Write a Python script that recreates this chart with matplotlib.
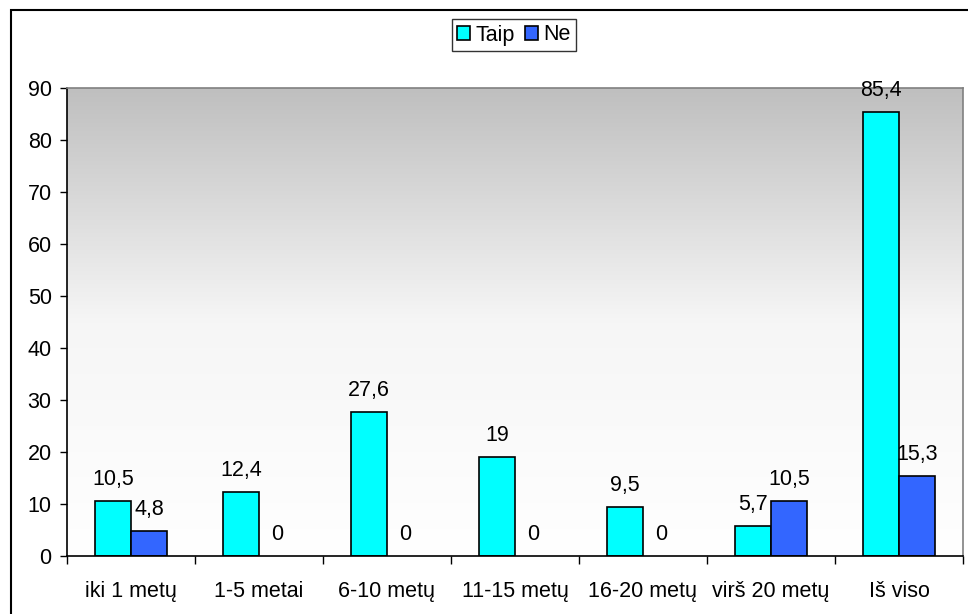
import matplotlib
matplotlib.use("Agg")
import matplotlib.pyplot as plt
import numpy as np
from matplotlib.patches import Rectangle
from matplotlib.colors import LinearSegmentedColormap

categories = ["iki 1 metų", "1-5 metai", "6-10 metų", "11-15 metų", "16-20 metų", "virš 20 metų", "Iš viso"]
taip = [10.5, 12.4, 27.6, 19, 9.5, 5.7, 85.4]
ne = [4.8, 0, 0, 0, 0, 10.5, 15.3]
taip_labels = ["10,5", "12,4", "27,6", "19", "9,5", "5,7", "85,4"]
ne_labels = ["4,8", "0", "0", "0", "0", "10,5", "15,3"]
yticks = [0, 10, 20, 30, 40, 50, 60, 70, 80, 90]

plt.rcParams["font.family"] = ["Liberation Sans", "DejaVu Sans"]
FS = 15.5

fig = plt.figure(figsize=(9.68, 6.14), dpi=100)
ax = fig.add_axes([67 / 968, 1 - 556 / 614, (963 - 67) / 968, (556 - 88) / 614])

# outer chart border
fig.patches.append(Rectangle((11 / 968, -0.05), 1.2, 1 - 10 / 614 + 0.05,
                             transform=fig.transFigure, fill=False,
                             edgecolor="black", linewidth=1.5, zorder=0))

n = len(categories)
x = np.arange(n)
w = 0.285

# gradient background: gray at top fading to white
grad = np.linspace(0, 1, 256).reshape(-1, 1)
cmap = LinearSegmentedColormap.from_list("bg", ["#ffffff", "#f6f6f6", "#bfbfbf"])
ax.imshow(grad, cmap=cmap, aspect="auto", origin="lower",
          extent=[-0.5, n - 0.5, 0, 90], zorder=0, interpolation="bilinear")

b1 = ax.bar(x - w / 2, taip, w, color="#00FFFF", edgecolor="black", linewidth=1.2, label="Taip", zorder=2)
b2 = ax.bar(x + w / 2, ne, w, color="#3366FF", edgecolor="black", linewidth=1.2, label="Ne", zorder=2)
for p in list(b1) + list(b2):
    if p.get_height() == 0:
        p.set_visible(False)

for xi, v, t in zip(x - w / 2, taip, taip_labels):
    ax.annotate(t, (xi, v), xytext=(0, 16), textcoords="offset pixels",
                ha="center", va="baseline", fontsize=FS, zorder=3)
for xi, v, t in zip(x + w / 2, ne, ne_labels):
    ax.annotate(t, (xi, v), xytext=(0, 16), textcoords="offset pixels",
                ha="center", va="baseline", fontsize=FS, zorder=3)

ax.set_xlim(-0.5, n - 0.5)
ax.set_ylim(0, 90)
ax.set_yticks(yticks)
ax.set_yticklabels([str(t) for t in yticks], fontsize=FS)
ax.tick_params(axis="y", direction="out", length=5, width=1, pad=6)

ax.set_xticks(x)
ax.set_xticklabels(categories, fontsize=FS)
ax.tick_params(axis="x", which="major", length=0, pad=18)
ax.set_xticks(np.arange(n + 1) - 0.5, minor=True)
ax.tick_params(axis="x", which="minor", direction="out", length=6, width=1)

for s in ["left", "bottom"]:
    ax.spines[s].set_color("black")
    ax.spines[s].set_linewidth(1.2)
for s in ["top", "right"]:
    ax.spines[s].set_color("#808080")
    ax.spines[s].set_linewidth(1.2)

leg = fig.legend(handles=[b1, b2], labels=["Taip", "Ne"], loc="center",
                 bbox_to_anchor=(514 / 968, 1 - 35 / 614), ncol=2, frameon=True,
                 fancybox=False, edgecolor="black", fontsize=FS,
                 handlelength=0.6, handleheight=0.6, handletextpad=0.25,
                 columnspacing=0.5, borderpad=0.25, borderaxespad=0)
leg.get_frame().set_linewidth(1.0)

fig.savefig("out.png", dpi=100, facecolor="white")
